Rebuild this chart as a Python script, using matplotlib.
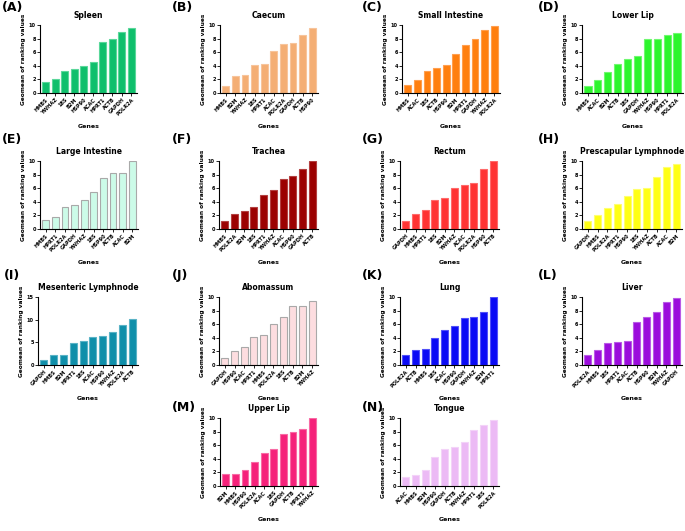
import matplotlib.pyplot as plt

# Data: one panel per tissue, genes sorted by geomean of ranking values
titles = ['Spleen', 'Caecum', 'Small Intestine', 'Lower Lip',
          'Large Intestine', 'Trachea', 'Rectum', 'Prescapular Lymphnode',
          'Mesenteric Lymphnode', 'Abomassum', 'Lung', 'Liver',
          'Upper Lip', 'Tongue']
letters = ['(A)', '(B)', '(C)', '(D)', '(E)', '(F)', '(G)', '(H)',
           '(I)', '(J)', '(K)', '(L)', '(M)', '(N)']

genes_a = ['HMBS', 'YWHAZ', '18S', 'B2M', 'HSP90', 'ACAC', 'HPRT1', 'ACTB', 'GAPDH', 'POLR2A']
vals_a = [1.6, 2.0, 3.2, 3.6, 3.9, 4.6, 7.5, 8.0, 9.0, 9.5]
genes_b = ['HMBS', 'B2M', 'YWHAZ', '18S', 'HPRT1', 'ACAC', 'POLR2A', 'GAPDH', 'ACTB', 'HSP90']
vals_b = [1.0, 2.5, 2.7, 4.1, 4.3, 6.2, 7.2, 7.4, 8.5, 9.5]
genes_c = ['HMBS', 'ACAC', '18S', 'ACTB', 'HSP90', 'B2M', 'HPRT1', 'GAPDH', 'YWHAZ', 'POLR2A']
vals_c = [1.2, 1.9, 3.2, 3.7, 4.1, 5.7, 7.0, 8.0, 9.3, 9.8]
genes_d = ['HMBS', 'ACAC', 'B2M', 'ACTB', '18S', 'GAPDH', 'YWHAZ', 'HSP90', 'HPRT1', 'POLR2A']
vals_d = [1.0, 1.9, 3.1, 4.3, 5.0, 5.5, 8.0, 8.0, 8.5, 8.8]
genes_e = ['HMBS', 'HPRT1', 'POLR2A', 'GAPDH', 'YWHAZ', '18S', 'HSP90', 'ACTB', 'ACAC', 'B2M']
vals_e = [1.3, 1.7, 3.3, 3.5, 4.2, 5.4, 7.5, 8.2, 8.2, 10.0]
genes_f = ['HMBS', 'POLR2A', 'B2M', '18S', 'HPRT1', 'YWHAZ', 'ACAC', 'HSP90', 'GAPDH', 'ACTB']
vals_f = [1.2, 2.2, 2.7, 3.3, 5.0, 5.7, 7.3, 7.8, 8.8, 10.0]
genes_g = ['GAPDH', 'HMBS', 'HPRT1', '18S', 'B2M', 'YWHAZ', 'ACAC', 'POLR2A', 'HSP90', 'ACTB']
vals_g = [1.2, 2.2, 2.8, 4.3, 4.5, 6.0, 6.4, 6.8, 8.8, 10.0]
genes_h = ['GAPDH', 'HMBS', 'POLR2A', 'HPRT1', 'HSP90', '18S', 'YWHAZ', 'ACTB', 'ACAC', 'B2M']
vals_h = [1.2, 2.1, 3.1, 3.7, 4.9, 5.9, 6.1, 7.6, 9.1, 9.5]
genes_i = ['GAPDH', 'HMBS', 'B2M', 'HPRT1', '18S', 'ACAC', 'HSP90', 'YWHAZ', 'POLR2A', 'ACTB']
vals_i = [1.1, 2.3, 2.3, 4.9, 5.2, 6.2, 6.3, 7.2, 8.9, 10.1]
genes_j = ['GAPDH', 'HSP90', 'ACAC', 'HPRT1', 'HMBS', 'POLR2A', '18S', 'ACTB', 'B2M', 'YWHAZ']
vals_j = [1.0, 2.0, 2.6, 4.1, 4.4, 6.0, 7.0, 8.7, 8.7, 9.4]
genes_k = ['POLR2A', 'ACTB', 'HMBS', '18S', 'ACAC', 'HSP90', 'GAPDH', 'YWHAZ', 'B2M', 'HPRT1']
vals_k = [1.4, 2.2, 2.3, 4.0, 5.2, 5.7, 6.9, 7.0, 7.8, 10.0]
genes_l = ['POLR2A', 'HMBS', '18S', 'HPRT1', 'ACAC', 'ACTB', 'HSP90', 'B2M', 'YWHAZ', 'GAPDH']
vals_l = [1.4, 2.2, 3.2, 3.4, 3.5, 6.3, 7.0, 7.8, 9.3, 9.8]
genes_m = ['B2M', 'HMBS', 'HSP90', 'POLR2A', 'ACAC', '18S', 'GAPDH', 'ACTB', 'HPRT1', 'YWHAZ']
vals_m = [1.7, 1.8, 2.4, 3.5, 4.9, 5.4, 7.6, 8.0, 8.4, 10.0]
genes_n = ['ACAC', 'HMBS', 'B2M', 'HSP90', 'GAPDH', 'ACTB', 'YWHAZ', 'HPRT1', '18S', 'POLR2A']
vals_n = [1.3, 1.6, 2.3, 4.2, 5.4, 5.7, 6.4, 8.2, 9.0, 9.7]

all_genes = [genes_a, genes_b, genes_c, genes_d, genes_e, genes_f, genes_g,
             genes_h, genes_i, genes_j, genes_k, genes_l, genes_m, genes_n]
all_vals = [vals_a, vals_b, vals_c, vals_d, vals_e, vals_f, vals_g,
            vals_h, vals_i, vals_j, vals_k, vals_l, vals_m, vals_n]
ymax = [10, 10, 10, 10, 10, 10, 10, 10, 15, 10, 10, 10, 10, 10]

fills = ['#0fbf6c', '#f4ae74', '#ff7f0f', '#2cf52c', '#ccfbe8', '#9b0000',
         '#ff3333', '#ffff14', '#0f8faa', '#fddde0', '#0a0af5', '#9b0cdc',
         '#f5217a', '#ecbaf5']
edges = ['#5ad79a', '#f7c49b', '#ff9f4f', '#6ff86f', '#a9a9a9', '#b34040',
         '#ff6a6a', '#ffff70', '#5ab3c6', '#a9a9a9', '#5050f8', '#b95ae6',
         '#f86aa4', '#f3d3f8']

W, H = 685, 531
fig = plt.figure(figsize=(W / 100, H / 100), dpi=100)

# axes boxes in pixels: left, top, right, bottom
boxes = [(40, 25, 137, 93), (220, 25, 318, 93), (402, 25, 500, 93), (582, 25, 683, 93),
         (40, 161, 138, 229), (219, 161, 318, 229), (400, 161, 499, 229), (582, 161, 682, 229),
         (38, 297, 138, 365), (219, 297, 318, 365), (400, 297, 499, 365), (582, 297, 682, 365),
         (220, 418, 318, 486), (400, 418, 499, 486)]
label_pos = [(2, 8), (172, 8), (362, 8), (538, 8),
             (2, 140), (172, 140), (362, 140), (538, 140),
             (4, 276), (172, 276), (362, 276), (538, 276),
             (172, 408), (362, 408)]

for i in range(14):
    l, t, r, b = boxes[i]
    ax = fig.add_axes([l / W, 1 - b / H, (r - l) / W, (b - t) / H])
    x = range(len(all_genes[i]))
    ax.bar(x, all_vals[i], width=0.72, color=fills[i], edgecolor=edges[i], linewidth=0.8)
    ax.set_xlim(-0.6, 9.6)
    ax.set_ylim(0, ymax[i])
    if ymax[i] == 15:
        ax.set_yticks([0, 5, 10, 15])
    else:
        ax.set_yticks([0, 2, 4, 6, 8, 10])
    ax.set_xticks(list(x))
    ax.set_xticklabels(all_genes[i], rotation=45, ha='right', rotation_mode='anchor',
                       fontsize=3.6, fontweight='bold')
    ax.tick_params(axis='y', labelsize=3.6, width=0.6, length=2, pad=1)
    ax.tick_params(axis='x', width=0.6, length=2, pad=1)
    for lab in ax.get_yticklabels():
        lab.set_fontweight('bold')
    for s in ['top', 'right']:
        ax.spines[s].set_visible(False)
    for s in ['left', 'bottom']:
        ax.spines[s].set_linewidth(0.8)
    ax.set_title(titles[i], fontsize=5.5, fontweight='bold', pad=5)
    ax.set_ylabel('Geomean of ranking values', fontsize=4.2, fontweight='bold', labelpad=2)
    ax.set_xlabel('Genes', fontsize=4.5, fontweight='bold', labelpad=5)
    lx, ly = label_pos[i]
    fig.text(lx / W, 1 - ly / H, letters[i], fontsize=9, fontweight='bold', va='center')

plt.savefig('out.png', dpi=100)
